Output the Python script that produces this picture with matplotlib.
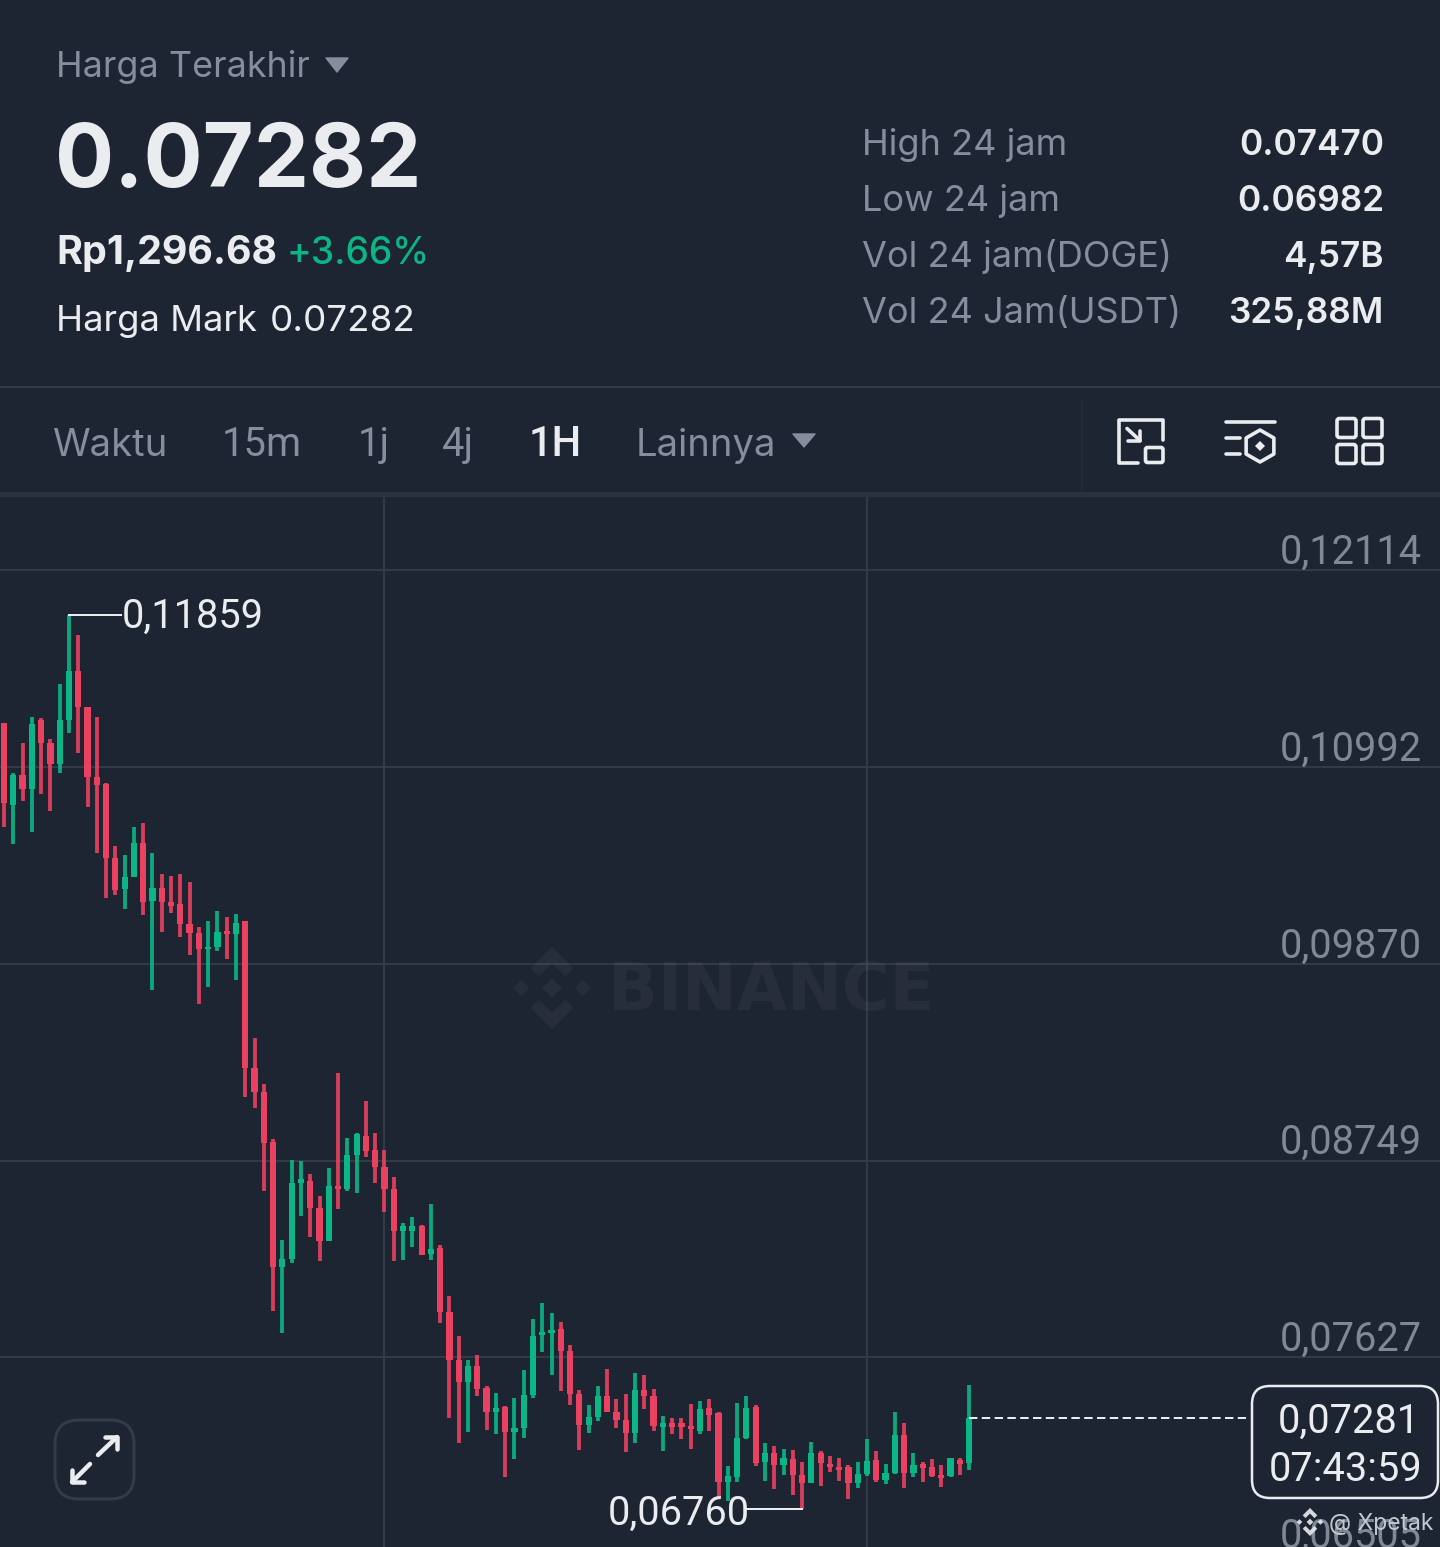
import numpy as np
import matplotlib
matplotlib.use('Agg')
import matplotlib.pyplot as plt
from matplotlib.patches import FancyBboxPatch, Polygon

plt.rcParams['font.family'] = ['Inter', 'DejaVu Sans']

BG = '#1e2532'
GRID = '#323a46'
GREY = '#848e9c'
WHITE = '#eaecef'
GREEN = '#0bb586'
RED = '#e9415f'

# 1h candles, prices in units of 0.00001 USDT
opens = [11243, 10777, 10948, 10868, 11262, 11132, 11011, 11262, 11541, 11334, 10935, 10897, 10473, 10296, 10364,
         10562, 10229, 10302, 10226, 10210, 10096, 10045, 9954, 9965, 10056, 10041, 10115, 9275, 9138, 8857,
         8144, 8186, 8623, 8634, 8478, 8290, 8604, 8585, 8783, 8889, 8809, 8714, 8589, 8347, 8349,
         8376, 8216, 8248, 7883, 7612, 7488, 7577, 7450, 7317, 7345, 7203, 7222, 7412, 7754, 7764,
         7786, 7665, 7418, 7241, 7288, 7406, 7317, 7269, 7193, 7440, 7406, 7231, 7254, 7250, 7237,
         7208, 7336, 7311, 6918, 6946, 7165, 7345, 7032, 7083, 7013, 7045, 6956, 6908, 7079, 7018,
         7003, 7003, 6908, 6960, 7041, 6927, 6965, 7184, 6965, 7017, 7003, 6956, 6950, 7041, 7022]
highs = [11243, 10961, 11129, 11281, 11271, 11153, 11465, 11859, 11746, 11338, 11277, 10900, 10545, 10490, 10650,
         10672, 10501, 10383, 10374, 10381, 10336, 10079, 10113, 10174, 10136, 10155, 10117, 9448, 9186, 8872,
         8296, 8752, 8748, 8672, 8547, 8705, 9246, 8880, 8908, 9089, 8904, 8809, 8653, 8391, 8427,
         8381, 8501, 8265, 7977, 7748, 7612, 7640, 7463, 7425, 7351, 7393, 7554, 7845, 7935, 7878,
         7830, 7697, 7440, 7353, 7463, 7558, 7387, 7418, 7535, 7524, 7448, 7292, 7279, 7283, 7359,
         7380, 7389, 7317, 7009, 7364, 7406, 7355, 7136, 7121, 7102, 7098, 7028, 7146, 7093, 7066,
         7051, 7013, 7028, 7159, 7094, 7018, 7315, 7250, 7079, 7032, 7049, 7015, 7055, 7051, 7469]
lows = [10650, 10554, 10802, 10623, 10838, 10743, 10957, 11186, 11072, 10767, 10501, 10245, 10262, 10182, 10364,
        10150, 9722, 10053, 10163, 10022, 9921, 9642, 9741, 9946, 9897, 9779, 9113, 9051, 8575, 7893,
        7764, 8163, 8435, 8315, 8174, 8290, 8473, 8577, 8566, 8767, 8619, 8456, 8178, 8182, 8258,
        8210, 8182, 7821, 7279, 7136, 7203, 7406, 7212, 7190, 6946, 7047, 7165, 7393, 7659, 7528,
        7433, 7357, 7096, 7193, 7264, 7313, 7226, 7087, 7140, 7330, 7208, 7091, 7190, 7159, 7102,
        7188, 7207, 6825, 6809, 6914, 7159, 7007, 6921, 6876, 6956, 6842, 6760, 6908, 6895, 6975,
        6921, 6817, 6880, 6952, 6918, 6902, 6961, 6880, 6946, 6916, 6946, 6889, 6946, 6954, 6984]
closes = [10786, 10948, 10868, 11239, 11129, 11011, 11262, 11541, 11334, 10935, 10891, 10473, 10292, 10368, 10558,
          10226, 10302, 10226, 10201, 10098, 10045, 9954, 9969, 10054, 10039, 10102, 9275, 9138, 8851, 8144,
          8186, 8623, 8642, 8478, 8290, 8604, 8585, 8783, 8900, 8805, 8714, 8585, 8347, 8378, 8378,
          8210, 8245, 7887, 7612, 7488, 7577, 7444, 7317, 7336, 7203, 7222, 7412, 7748, 7773, 7783,
          7665, 7418, 7241, 7288, 7406, 7317, 7269, 7193, 7440, 7406, 7235, 7250, 7228, 7228, 7216,
          7330, 7298, 6918, 6950, 7169, 7336, 7022, 7083, 7013, 7055, 6956, 6908, 7079, 7022, 6999,
          6984, 6908, 6960, 7037, 6927, 6969, 7184, 6965, 7013, 6998, 6950, 6937, 7051, 7018, 7281]

price_ticks = [0.12114, 0.10992, 0.09870, 0.08749, 0.07627, 0.06505]
price_labels = ['0,12114', '0,10992', '0,09870', '0,08749', '0,07627', '0,06505']
time_grid = [41, 93]
last_price = 0.07281

stats_names = ['High 24 jam', 'Low 24 jam', 'Vol 24 jam(DOGE)', 'Vol 24 Jam(USDT)']
stats_values = ['0.07470', '0.06982', '4,57B', '325,88M']

W, H = 1440, 1547
fig = plt.figure(figsize=(W / 100, H / 100), dpi=100, facecolor=BG)

# chart area, the rest of the screen is drawn on ui in pixel coords
chart_top = 495
ax = fig.add_axes([0, 0, 1, (H - chart_top) / H], facecolor=BG, zorder=1)
ui = fig.add_axes([0, 0, 1, 1], zorder=2)
ui.patch.set_alpha(0)
ui.set_xlim(0, W)
ui.set_ylim(H, 0)
ui.axis('off')


def px(w):
    return w * 0.72


def txt(x, y, s, size, color=WHITE, weight='normal', ha='left', **kw):
    return ui.text(x, y, s, fontsize=size, color=color, fontweight=weight, ha=ha, va='baseline', **kw)


def triangle(x0, x1, y0, y1, color=GREY):
    ui.add_patch(Polygon([(x0, y0), (x1, y0), ((x0 + x1) / 2, y1)], closed=True, fc=color, ec=color,
                         lw=1, joinstyle='round'))


def stroke(xs, ys, lw=3.6, color=WHITE):
    ui.plot(xs, ys, color=color, lw=px(lw), solid_capstyle='round', solid_joinstyle='round')


def rbox(x0, y0, x1, y1, r, lw=3.6, ec=WHITE, fc='none'):
    ui.add_patch(FancyBboxPatch((x0 + r, y0 + r), x1 - x0 - 2 * r, y1 - y0 - 2 * r,
                                boxstyle=f'round,pad={r},rounding_size={r}', fc=fc, ec=ec, lw=px(lw)))


def binance_logo(cx, cy, r, color, alpha=1.0):
    shapes = [
        [(0, -.24), (.24, 0), (0, .24), (-.24, 0)],
        [(-.75, -.2), (-.55, 0), (-.75, .2), (-.95, 0)],
        [(.75, -.2), (.95, 0), (.75, .2), (.55, 0)],
        [(0, -1), (.52, -.48), (.32, -.28), (0, -.6), (-.32, -.28), (-.52, -.48)],
        [(0, 1), (.52, .48), (.32, .28), (0, .6), (-.32, .28), (-.52, .48)],
    ]
    for s in shapes:
        ui.add_patch(Polygon([(cx + a * r, cy + b * r) for a, b in s], closed=True, fc=color, ec='none', alpha=alpha))


# header
txt(56, 77, 'Harga Terakhir', 25.8, GREY)
triangle(326, 348, 58, 72)
txt(55, 187, '0.07282', 63.2, WHITE, 'bold')
txt(56, 264, 'Rp1,296.68', 28.4, WHITE, 'bold')
txt(287, 264, '+3.66%', 26.8, GREEN, 'medium')
txt(56, 331, 'Harga Mark', 26.2, WHITE)
txt(270, 331, '0.07282', 26.5, WHITE)

for i, (name, value) in enumerate(zip(stats_names, stats_values)):
    base = 155 + 56 * i
    txt(862, base, name, 26, GREY)
    txt(1384, base, value, 25.4, WHITE, 'semibold', ha='right')

ui.plot([0, W], [387, 387], color='#333b47', lw=px(2))
ui.plot([0, W], [493.5, 493.5], color='#2a323e', lw=px(5))
ui.plot([1082, 1082], [400, 490], color='#232b37', lw=px(2))

# interval tabs, the digit ones in Roboto for the wider 1
txt(52, 456, 'Waktu', 27.5, GREY)
txt(636, 456, 'Lainnya', 27.5, GREY)
for x, s in zip([222, 358, 442], ['15m', '1j', '4j']):
    txt(x, 456, s, 28.8, GREY, family='Roboto')
txt(529, 456, '1H', 30, WHITE, 'medium', family='Roboto')
triangle(793, 815, 434, 447)

# toolbar icons
stroke([1138, 1118.5, 1118.5, 1163, 1163], [462.5, 462.5, 419.5, 419.5, 440])
rbox(1145.5, 447.5, 1163, 462.5, 2)
stroke([1127, 1140], [428.5, 440.5])
stroke([1140, 1140, 1128], [431, 440.5, 440.5])
stroke([1226, 1275], [422, 422])
stroke([1226, 1240], [438, 438])
stroke([1226, 1240], [454, 454])
ang = np.radians(np.arange(30, 390, 60))
ui.add_patch(Polygon(np.c_[1260 + 16 * np.cos(ang), 446 + 16 * np.sin(ang)], closed=True, fc='none', ec=WHITE,
                     lw=px(3.6), joinstyle='round'))
ui.add_patch(Polygon([(1260, 441), (1265, 446), (1260, 451), (1255, 446)], closed=True, fc=WHITE, ec='none'))
for x0 in [1337, 1363]:
    for y0 in [418.5, 444.5]:
        rbox(x0, y0, x0 + 19, y0 + 19, 2.5)

# chart, x runs on candle index and y on price
x_step = 9.28
x_first = 4
px_per_price = 196.75 / 0.01122
y_ref = 570.5
ax.set_xlim(-x_first / x_step, (W - x_first) / x_step)
ax.set_ylim(0.12114 - (H - y_ref) / px_per_price, 0.12114 + (y_ref - chart_top) / px_per_price)
ax.set_xticks(time_grid)
ax.set_yticks(price_ticks[:-1])
ax.tick_params(length=0, labelleft=False, labelbottom=False)
ax.grid(True, color=GRID, lw=px(2))
ax.set_axisbelow(True)
for sp in ax.spines.values():
    sp.set_visible(False)

o = np.array(opens) / 1e5
h = np.array(highs) / 1e5
l = np.array(lows) / 1e5
c = np.array(closes) / 1e5
idx = np.arange(len(o))
colors = [GREEN if b >= a else RED for a, b in zip(o, c)]
ax.vlines(idx, l, h, colors=colors, lw=px(3.8), capstyle='butt', alpha=0.92, zorder=3)
ax.bar(idx, np.abs(c - o), bottom=np.minimum(o, c), width=6.2 / x_step, color=colors, zorder=3)

# price scale labels sit on top of their grid lines
for p, s in zip(price_ticks, price_labels):
    ax.annotate(s, (1, p), xycoords=ax.get_yaxis_transform(), xytext=(px(-18), px(6.5)), textcoords='offset points',
                ha='right', va='baseline', fontsize=28.6, color='#7f8996', family='Roboto',
                annotation_clip=False, zorder=4)

# high / low markers
hi_i = int(np.argmax(h))
lo_i = int(np.argmin(l))
ax.plot([hi_i, hi_i + 5.6], [h[hi_i], h[hi_i]], color=WHITE, lw=px(2), zorder=4)
ax.annotate('0,11859', (hi_i + 5.6, h[hi_i]), xytext=(px(1), px(-13)), textcoords='offset points', ha='left',
            va='baseline', fontsize=28.6, color=WHITE, family='Roboto', zorder=4)
ax.plot([lo_i, lo_i - 5.9], [l[lo_i], l[lo_i]], color=WHITE, lw=px(2), zorder=4)
ax.annotate('0,06760', (lo_i - 5.9, l[lo_i]), xytext=(px(3), px(-15)), textcoords='offset points', ha='right',
            va='baseline', fontsize=28.6, color=WHITE, family='Roboto', zorder=4)

# last price line
ax.plot([idx[-1], (1246 - x_first) / x_step], [last_price, last_price], color=WHITE, lw=px(2),
        dashes=(4.2, 2.2), zorder=4)
rbox(1252, 1386, 1438, 1498, 18, lw=2.5, fc=BG)
txt(1420, 1433, '0,07281', 28.6, WHITE, ha='right', family='Roboto')
txt(1422, 1481, '07:43:59', 28.6, WHITE, ha='right', family='Roboto')

# expand button
rbox(55, 1420, 134, 1499, 24, lw=3, ec='#333b49')
stroke([98, 117], [1455, 1437], lw=4.5)
stroke([105, 117, 117], [1437, 1437, 1449], lw=4.5)
stroke([90, 72], [1464, 1482], lw=4.5)
stroke([72, 72, 84], [1470, 1482, 1482], lw=4.5)

# watermarks
binance_logo(552, 988, 41, '#ffffff', alpha=0.045)
txt(608, 1010, 'BINANCE', 47, '#ffffff', 'bold', alpha=0.045, family='DejaVu Sans')
binance_logo(1310, 1522, 14, WHITE, alpha=0.9)
txt(1329, 1530, '@ Xpetak', 16.5, '#c4c8ce')

fig.savefig('out.png', dpi=100, facecolor=BG)
